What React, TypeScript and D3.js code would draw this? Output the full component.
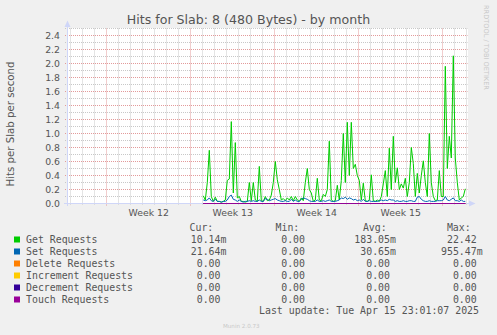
import React, { useEffect, useRef } from 'react';
import * as d3 from 'd3';

// time window of the graph (33 days ending just after the last update)
const xStart = new Date(Date.UTC(2025, 2, 13, 17, 24));
const xEnd = new Date(Date.UTC(2025, 3, 16, 1, 24));
const dataStart = new Date(Date.UTC(2025, 2, 25, 1, 0));
const stepHours = 4;

const yTicks = [0, 0.2, 0.4, 0.6, 0.8, 1.0, 1.2, 1.4, 1.6, 1.8, 2.0, 2.2, 2.4];
const weekLabels = ['Week 12', 'Week 13', 'Week 14', 'Week 15'];
const weekStarts = ['2025-03-17', '2025-03-24', '2025-03-31', '2025-04-07', '2025-04-14'];

const getValues = [
  0.11, 0.05, 0.3, 0.76, 0.1, 0.03, 0.09, 0.03, 0.03, 0.02, 0.03, 0.05, 0.33, 0.35, 1.17, 0.15,
  0.87, 0.08, 0.1, 0.03, 0.03, 0.02, 0.03, 0.3, 0.04, 0.3, 0.05, 0.03, 0.53, 0.04, 0.03, 0.1,
  0.04, 0.05, 0.12, 0.3, 0.6, 0.34, 0.2, 0.05, 0.07, 0.04, 0.08, 0.05, 0.1, 0.04, 0.1, 0.05,
  0.03, 0.08, 0.04, 0.3, 0.5, 0.2, 0.15, 0.03, 0.05, 0.36, 0.05, 0.04, 0.13, 0.1, 0.2, 0.89,
  0.05, 0.03, 0.04, 0.26, 0.05, 0.33, 1.0, 0.3, 1.16, 0.4, 1.16, 0.5, 0.56, 0.4, 0.33, 0.05,
  0.29, 0.04, 0.03, 0.05, 0.41, 0.04, 0.03, 0.05, 0.03, 0.1, 0.28, 0.47, 0.1, 0.79, 0.2, 0.96,
  0.3, 0.51, 0.2, 0.28, 0.22, 0.36, 0.1, 0.3, 0.8, 0.57, 0.1, 0.43, 0.15, 0.4, 0.61, 0.3,
  0.1, 1.0, 0.3, 0.1, 0.04, 0.05, 0.47, 0.1, 0.1, 1.96, 0.5, 0.96, 0.65, 2.11, 0.65, 0.3,
  0.05, 0.08, 0.1, 0.21,
];

const setValues = [
  0.05, 0.04, 0.05, 0.08, 0.04, 0.03, 0.06, 0.03, 0.03, 0.02, 0.03, 0.03, 0.05, 0.1, 0.12, 0.06,
  0.05, 0.03, 0.05, 0.03, 0.02, 0.03, 0.03, 0.04, 0.03, 0.04, 0.03, 0.03, 0.05, 0.03, 0.03, 0.07,
  0.06, 0.04, 0.05, 0.06, 0.07, 0.05, 0.04, 0.03, 0.03, 0.04, 0.03, 0.03, 0.06, 0.03, 0.05, 0.03,
  0.03, 0.06, 0.08, 0.07, 0.06, 0.04, 0.03, 0.03, 0.03, 0.05, 0.03, 0.03, 0.04, 0.03, 0.04, 0.05,
  0.03, 0.03, 0.03, 0.04, 0.05, 0.08, 0.07, 0.09, 0.06, 0.08, 0.07, 0.05, 0.06, 0.04, 0.05, 0.03,
  0.06, 0.03, 0.03, 0.04, 0.03, 0.03, 0.03, 0.03, 0.04, 0.05, 0.04, 0.05, 0.04, 0.06, 0.05, 0.05,
  0.03, 0.04, 0.03, 0.03, 0.04, 0.03, 0.03, 0.04, 0.04, 0.03, 0.03, 0.09, 0.1, 0.06, 0.04, 0.03,
  0.03, 0.04, 0.03, 0.03, 0.03, 0.04, 0.04, 0.04, 0.05, 0.1, 0.05, 0.04, 0.06, 0.08, 0.04, 0.04,
  0.03, 0.05, 0.03, 0.03,
];

const seriesNames = ['Get Requests', 'Set Requests', 'Delete Requests', 'Increment Requests', 'Decrement Requests', 'Touch Requests'];
const seriesColors = ['#00cc00', '#0066b3', '#ff8000', '#ffcc00', '#330099', '#990099'];
const curValues = ['10.14m', '21.64m', '0.00', '0.00', '0.00', '0.00'];
const minValues = ['0.00', '0.00', '0.00', '0.00', '0.00', '0.00'];
const avgValues = ['183.05m', '30.65m', '0.00', '0.00', '0.00', '0.00'];
const maxValues = ['22.42', '955.47m', '0.00', '0.00', '0.00', '0.00'];

const W = 497;
const H = 335;

const App: React.FC = () => {
  const svgRef = useRef<SVGSVGElement>(null);

  useEffect(() => {
    if (!svgRef.current) return;
    d3.select(svgRef.current).selectAll('*').remove();

    const svg = d3.select(svgRef.current).attr('width', W).attr('height', H);
    const sans = 'DejaVu Sans, sans-serif';
    const mono = 'DejaVu Sans Mono, monospace';
    const fontColor = '#555';
    const axisColor = '#cfd6f8';

    svg.append('rect').attr('width', W).attr('height', H).attr('fill', '#f0f0f0');

    const x = d3.scaleTime().domain([xStart, xEnd]).range([67.5, 467.5]);
    const y = d3.scaleLinear().domain([0, 2.5]).range([203.5, 28.5]);

    // canvas
    svg.append('rect').attr('x', 67).attr('y', 28).attr('width', 401).attr('height', 176).attr('fill', '#fff');

    const grid = svg.append('g');
    // minor horizontal grid
    d3.range(1, 26).filter(i => i % 2 === 1).forEach(i => {
      const yy = y(i / 10);
      grid.append('line').attr('x1', 65).attr('x2', 467.5).attr('y1', yy).attr('y2', yy)
        .attr('stroke', '#c8c8c8').attr('stroke-dasharray', '1,1');
    });
    // minor vertical grid (days)
    d3.utcDay.range(xStart, xEnd).forEach(d => {
      if (d.getUTCDay() === 1) return;
      const xx = Math.round(x(d) - 0.5) + 0.5;
      grid.append('line').attr('x1', xx).attr('x2', xx).attr('y1', 28.5).attr('y2', 205)
        .attr('stroke', '#c8c8c8').attr('stroke-dasharray', '1,1');
    });
    // major horizontal grid
    yTicks.forEach(t => {
      if (t === 0) return;
      const yy = y(t);
      grid.append('line').attr('x1', 65).attr('x2', 467.5).attr('y1', yy).attr('y2', yy)
        .attr('stroke', '#e39a9a').attr('stroke-dasharray', '1,1');
    });
    // major vertical grid (weeks)
    weekStarts.forEach(s => {
      const xx = Math.round(x(new Date(s + 'T00:00:00Z')) - 0.5) + 0.5;
      grid.append('line').attr('x1', xx).attr('x2', xx).attr('y1', 28.5).attr('y2', 206)
        .attr('stroke', '#e39a9a').attr('stroke-dasharray', '1,1');
    });

    // axes
    svg.append('line').attr('x1', 67.5).attr('x2', 67.5).attr('y1', 206).attr('y2', 26)
      .attr('stroke', axisColor);
    svg.append('path').attr('d', 'M64.5,27 L67.5,20.5 L70.5,27 Z').attr('fill', axisColor);
    svg.append('line').attr('x1', 64).attr('x2', 470).attr('y1', 203.5).attr('y2', 203.5)
      .attr('stroke', axisColor);
    svg.append('path').attr('d', 'M469,200.5 L475.5,203.5 L469,206.5 Z').attr('fill', axisColor);

    // y labels
    yTicks.forEach(t => {
      svg.append('text').attr('x', 60).attr('y', y(t) + 3.3)
        .attr('text-anchor', 'end').style('font-family', sans).style('font-size', '9.33px')
        .style('fill', fontColor).text(t.toFixed(1));
    });

    // x labels at week centres
    weekLabels.forEach((lab, i) => {
      const c = new Date(new Date(weekStarts[i] + 'T00:00:00Z').getTime() + 3.5 * 86400000);
      svg.append('text').attr('x', x(c)).attr('y', 216)
        .attr('text-anchor', 'middle').style('font-family', sans).style('font-size', '9.33px')
        .style('fill', fontColor).text(lab);
    });

    // data lines
    const times = getValues.map((_, i) => new Date(dataStart.getTime() + i * stepHours * 3600000));
    const line = d3.line<number>()
      .x((_, i) => x(times[i]))
      .y(v => y(v));
    const zeros = getValues.map(() => 0);
    const allSeries = [getValues, setValues, zeros, zeros, zeros, zeros];
    allSeries.forEach((vals, i) => {
      svg.append('path').attr('d', line(vals) as string).attr('fill', 'none')
        .attr('stroke', seriesColors[i]).attr('stroke-width', 1);
    });

    // title
    svg.append('text').attr('x', W / 2).attr('y', 23.5).attr('text-anchor', 'middle')
      .style('font-family', sans).style('font-size', '12.6px').style('fill', fontColor)
      .text('Hits for Slab: 8 (480 Bytes) - by month');

    // y axis title
    svg.append('text').attr('transform', 'translate(14,124) rotate(-90)')
      .attr('text-anchor', 'middle').style('font-family', sans).style('font-size', '10.2px')
      .style('fill', fontColor).text('Hits per Slab per second');

    // rrdtool credit
    svg.append('text').attr('transform', 'translate(484,5) rotate(90)')
      .style('font-family', sans).style('font-size', '6.6px').style('fill', '#c8c8c8')
      .text('RRDTOOL / TOBI OETIKER');

    // legend
    const lg = svg.append('g').style('font-family', mono).style('font-size', '9.9px').style('fill', fontColor);
    const headerEnds = [213.3, 299.3, 386.7, 470.7];
    const colEnds = [220.5, 305, 390, 476.7];
    ['Cur:', 'Min:', 'Avg:', 'Max:'].forEach((h, j) => {
      lg.append('text').attr('x', headerEnds[j]).attr('y', 230.8).attr('text-anchor', 'end').text(h);
    });
    const cols = [curValues, minValues, avgValues, maxValues];
    seriesNames.forEach((name, i) => {
      const cy = 239.5 + i * 12;
      lg.append('rect').attr('x', 14).attr('y', cy - 3).attr('width', 6).attr('height', 6)
        .attr('fill', seriesColors[i]);
      lg.append('text').attr('x', 26).attr('y', cy + 3.5).text(name);
      cols.forEach((col, j) => {
        const s = col[i];
        const unit = /[a-zA-Z]$/.test(s) ? s.slice(-1) : '';
        const num = unit ? s.slice(0, -1) : s;
        lg.append('text').attr('x', colEnds[j]).attr('y', cy + 3.5).attr('text-anchor', 'end').text(num);
        if (unit) lg.append('text').attr('x', colEnds[j]).attr('y', cy + 3.5).text(unit);
      });
    });
    lg.append('text').attr('x', 479).attr('y', 314.3).attr('text-anchor', 'end')
      .text('Last update: Tue Apr 15 23:01:07 2025');

    svg.append('text').attr('x', 223).attr('y', 328).style('font-family', sans)
      .style('font-size', '5.6px').style('fill', '#c8c8c8').text('Munin 2.0.73');
  }, []);

  return (
    <div style={{ position: 'absolute', left: 0, top: 0 }}>
      <svg ref={svgRef} style={{ display: 'block' }} />
    </div>
  );
};

export default App;
